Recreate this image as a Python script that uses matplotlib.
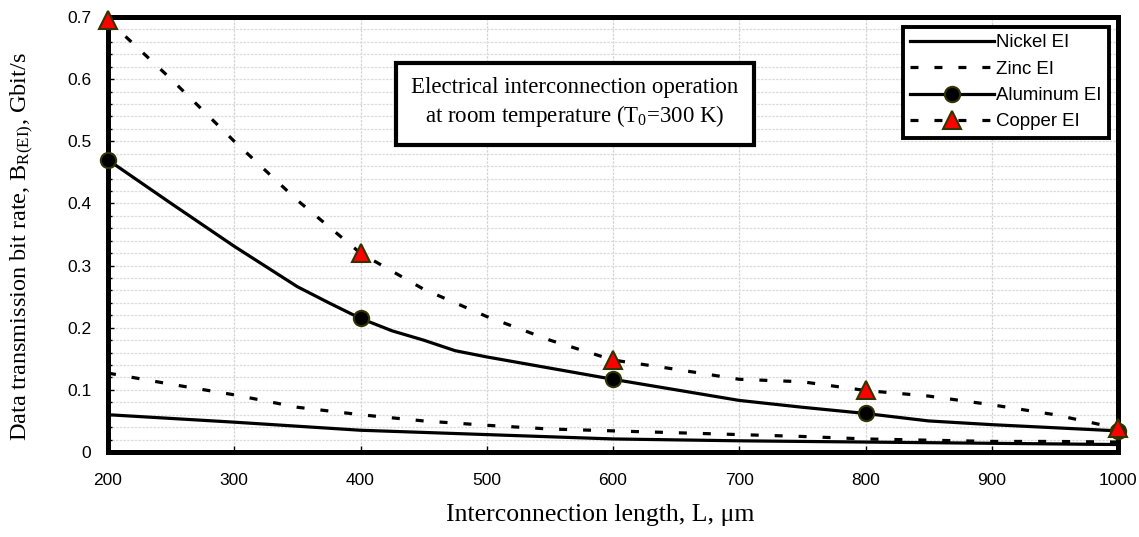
import matplotlib
matplotlib.use("Agg")
import matplotlib.pyplot as plt
from matplotlib.ticker import MultipleLocator

plt.rcParams['mathtext.fontset'] = 'custom'
plt.rcParams['mathtext.rm'] = 'Liberation Serif'
plt.rcParams['mathtext.it'] = 'Liberation Serif:italic'

# ---- data ----
x_cu = [200, 250, 300, 350, 400, 450, 500, 550, 600, 650, 700, 750, 800, 850, 900, 950, 1000]
copper = [0.695, 0.60, 0.50, 0.405, 0.32, 0.262, 0.218, 0.18, 0.148, 0.133, 0.117, 0.113, 0.099, 0.09, 0.076, 0.06, 0.038]

x_al = [200, 250, 300, 350, 375, 400, 425, 450, 475, 500, 550, 600, 650, 700, 750, 800, 850, 900, 950, 1000]
aluminum = [0.47, 0.40, 0.331, 0.266, 0.24, 0.215, 0.195, 0.18, 0.163, 0.153, 0.135, 0.117, 0.10, 0.083, 0.072, 0.062, 0.05, 0.044, 0.039, 0.034]

x_zn = [200, 250, 300, 350, 400, 450, 500, 550, 600, 650, 700, 750, 800, 850, 900, 950, 1000]
zinc = [0.127, 0.109, 0.092, 0.072, 0.060, 0.050, 0.043, 0.037, 0.034, 0.031, 0.028, 0.025, 0.021, 0.019, 0.017, 0.017, 0.016]

x_ni = [200, 300, 400, 500, 600, 700, 800, 900, 1000]
nickel = [0.06, 0.048, 0.035, 0.028, 0.021, 0.018, 0.016, 0.014, 0.012]

marker_x = [200, 400, 600, 800, 1000]

xticks = [200, 300, 400, 500, 600, 700, 800, 900, 1000]
yticks = [0, 0.1, 0.2, 0.3, 0.4, 0.5, 0.6, 0.7]
ytick_labels = ['0', '0.1', '0.2', '0.3', '0.4', '0.5', '0.6', '0.7']

fig = plt.figure(figsize=(11.39, 5.37), dpi=100)
ax = fig.add_axes([108/1139, 1-452/537, (1118-108)/1139, (452-17)/537])

edge = '#333300'
lw = 2.3
ax.plot(x_ni, nickel, color='black', lw=lw, label='Nickel EI', zorder=3)
ax.plot(x_zn, zinc, color='black', lw=lw, dashes=(2.5, 5.0), label='Zinc EI', zorder=3)
ax.plot(x_al, aluminum, color='black', lw=lw, marker='o', markersize=11,
        markerfacecolor='black', markeredgecolor=edge, markeredgewidth=1.5,
        markevery=[x_al.index(v) for v in marker_x], label='Aluminum EI', zorder=7, clip_on=False)
ax.plot(x_cu, copper, color='black', lw=lw, dashes=(2.5, 5.0), marker='^', markersize=12.5,
        markerfacecolor='red', markeredgecolor=edge, markeredgewidth=1.5,
        markevery=[x_cu.index(v) for v in marker_x], label='Copper EI', zorder=7, clip_on=False)

ax.set_xlim(200, 1000)
ax.set_ylim(0, 0.7)
ax.set_xticks(xticks)
ax.set_xticklabels([str(v) for v in xticks])
ax.set_yticks(yticks)
ax.set_yticklabels(ytick_labels)
ax.yaxis.set_minor_locator(MultipleLocator(0.02))

ax.grid(True, axis='x', which='major', color='#d4d4d4', lw=0.9, ls=(0, (2, 1)), zorder=0)
ax.grid(True, axis='y', which='minor', color='#dcdcdc', lw=0.9, ls=(0, (2, 1)), zorder=0)
ax.grid(True, axis='y', which='major', color='#dcdcdc', lw=0.9, ls=(0, (2, 1)), zorder=0)

for s in ax.spines.values():
    s.set_linewidth(3.6)
    s.set_color('black')
    s.set_zorder(6)

ax.tick_params(axis='both', which='major', direction='in', length=4, width=1, labelsize=12.5,
               colors='black')
ax.tick_params(axis='x', which='major', pad=15)
ax.tick_params(axis='y', which='minor', direction='in', length=3, width=1)
ax.tick_params(axis='y', which='major', pad=12)
for lab in ax.get_xticklabels() + ax.get_yticklabels():
    lab.set_family('Liberation Sans')

ax.set_xlabel('Interconnection length, L, μm', family='Liberation Serif', fontsize=18.5)
ax.xaxis.set_label_coords((600-108)/1010, -(515-452)/435)
ax.xaxis.label.set_va('center')
ax.set_ylabel('Data transmission bit rate, B$_{\\mathrm{R(EI)}}$, Gbit/s', family='Liberation Serif',
              fontsize=17.5)
ax.yaxis.set_label_coords(-(108-22)/1010, (452-247)/435)
ax.yaxis.label.set_va('center')

ax.text((575-108)/1010, (452-103)/435, 'Electrical interconnection operation\nat room temperature (T$_{0}$=300 K)',
        transform=ax.transAxes, ha='center', va='center', family='Liberation Serif', fontsize=16.5,
        linespacing=1.3,
        bbox=dict(boxstyle='square,pad=0.68', facecolor='white', edgecolor='black', linewidth=3), zorder=5)

leg = ax.legend(loc='upper right', bbox_to_anchor=((1109-108)/1010, (452-27)/435), borderaxespad=0,
                prop={'family': 'Liberation Sans', 'size': 13.4},
                handlelength=4.5, handletextpad=0.1, borderpad=0.4, labelspacing=0.5,
                fancybox=False, framealpha=1, edgecolor='black')
leg.get_frame().set_linewidth(2.8)
leg.set_zorder(8)

fig.savefig('out.png', dpi=100)
